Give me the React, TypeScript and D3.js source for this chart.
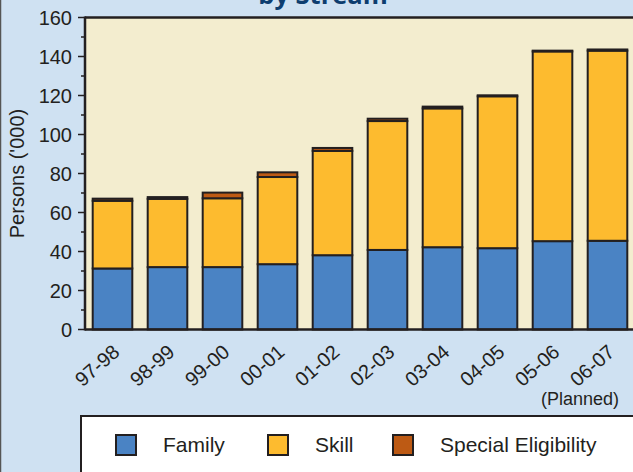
import React from "react";
import * as d3 from "d3";

const years = ["97-98", "98-99", "99-00", "00-01", "01-02", "02-03", "03-04", "04-05", "05-06", "06-07"];
const family = [31.3, 32.0, 32.0, 33.5, 38.1, 40.8, 42.2, 41.7, 45.3, 45.5];
const skill = [34.7, 35.0, 35.3, 44.7, 53.5, 66.1, 71.2, 77.9, 97.3, 97.5];
const special = [1.1, 0.9, 2.9, 2.4, 1.5, 1.2, 0.9, 0.5, 0.4, 0.6];
const seriesNames = ["Family", "Skill", "Special Eligibility"];
const seriesColors = ["#4a83c4", "#fdbb2f", "#bd5a14"];
const yTicks = [0, 20, 40, 60, 80, 100, 120, 140, 160];

const W = 633;
const H = 472;
const left = 85;
const top = 17.5;
const bottom = 329.5;
const ink = "#231f20";
const font = "'Liberation Sans', Arial, sans-serif";

export default function App() {
  const x = d3.scaleBand<string>().domain(years).range([left, 635]).paddingInner(0.28).paddingOuter(0.14);
  const y = d3.scaleLinear().domain([0, 160]).range([bottom, top]);
  const rows = years.map((yr, i) => ({ year: yr, Family: family[i], Skill: skill[i], "Special Eligibility": special[i] }));
  const stack = d3.stack<any>().keys(seriesNames)(rows);
  const minor = d3.range(10, 160, 20);
  const legendX = [116, 268, 393];

  return (
    <svg width={W} height={H} style={{ position: "absolute", left: 0, top: 0 }} fontFamily={font}>
      <rect x={0} y={0} width={W} height={H} fill="#cfe1f2" />
      <line x1={0.5} y1={0} x2={0.5} y2={H} stroke="#555" strokeWidth={1.5} />
      <text x={323} y={3.5} textAnchor="middle" fontSize={25.5} fontWeight="bold" fill="#0d3d6f" fontFamily="'Open Sans', sans-serif">
        by Stream
      </text>
      <rect x={left} y={top} width={W - left + 10} height={bottom - top} fill="#f3edcf" />
      {stack.map((s, si) =>
        s.map((d, i) => (
          <rect
            key={si + "-" + i}
            x={x(years[i])!}
            y={y(d[1])}
            width={x.bandwidth()}
            height={y(d[0]) - y(d[1])}
            fill={seriesColors[si]}
            stroke={ink}
            strokeWidth={2}
          />
        ))
      )}
      <line x1={left} y1={top} x2={W + 5} y2={top} stroke={ink} strokeWidth={2.5} />
      <line x1={left} y1={bottom} x2={W + 5} y2={bottom} stroke={ink} strokeWidth={2.5} />
      <line x1={left} y1={top - 1} x2={left} y2={bottom + 1} stroke={ink} strokeWidth={2.5} />
      {yTicks.map((t) => (
        <g key={t}>
          <line x1={left - 7} x2={left} y1={y(t)} y2={y(t)} stroke={ink} strokeWidth={1.5} />
          <text x={72} y={y(t)} dy="0.35em" textAnchor="end" fontSize={20} fill={ink}>
            {t}
          </text>
        </g>
      ))}
      {minor.map((t) => (
        <line key={t} x1={left - 4} x2={left} y1={y(t)} y2={y(t)} stroke={ink} strokeWidth={1.5} />
      ))}
      <text transform={`translate(24,${(top + bottom) / 2}) rotate(-90)`} textAnchor="middle" fontSize={20} fill={ink}>
        Persons ('000)
      </text>
      {years.map((yr) => {
        const cx = x(yr)! + x.bandwidth() / 2 + 8.5;
        return (
          <text key={yr} transform={`translate(${cx},${bottom + 24.5}) rotate(-41)`} textAnchor="end" fontSize={20} fill={ink}>
            {yr}
          </text>
        );
      })}
      <text x={619} y={405} textAnchor="end" fontSize={18} fill={ink}>
        (Planned)
      </text>
      <rect x={81} y={416} width={W} height={80} fill="#fff" stroke={ink} strokeWidth={2} />
      {seriesNames.map((n, i) => (
        <g key={n}>
          <rect x={legendX[i]} y={435} width={20} height={20} fill={seriesColors[i]} stroke={ink} strokeWidth={2} />
          <text x={legendX[i] + 47} y={445} dy="0.35em" fontSize={21} fill={ink}>
            {n}
          </text>
        </g>
      ))}
    </svg>
  );
}
